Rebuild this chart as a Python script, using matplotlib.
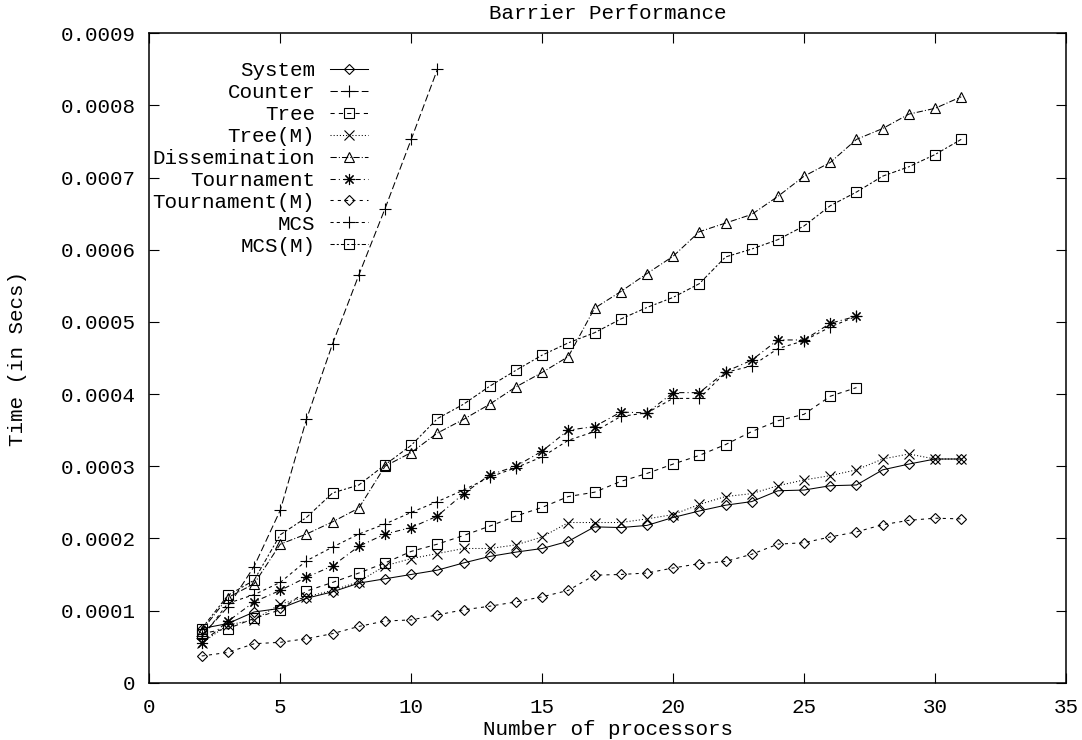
import numpy as np
import matplotlib
matplotlib.use("Agg")
import matplotlib.pyplot as plt
from matplotlib.ticker import FuncFormatter

plt.rcParams['font.family'] = ['Liberation Mono', 'DejaVu Sans Mono']
plt.rcParams['font.size'] = 15

SCALE = 1e-4  # values below are in units of 1e-4 seconds

procs_31 = list(range(2, 32))
procs_27 = list(range(2, 28))
procs_11 = list(range(2, 12))

system = [0.75, 0.82, 0.98, 1.03, 1.17, 1.26, 1.38, 1.44, 1.50, 1.56,
          1.66, 1.75, 1.81, 1.86, 1.96, 2.16, 2.15, 2.18, 2.29, 2.38,
          2.46, 2.51, 2.66, 2.67, 2.73, 2.74, 2.95, 3.03, 3.10, 3.10]
counter = [0.65, 1.05, 1.61, 2.39, 3.65, 4.70, 5.65, 6.57, 7.53, 8.50]
tree = [0.68, 0.75, 0.89, 1.01, 1.27, 1.39, 1.52, 1.66, 1.82, 1.92,
        2.04, 2.17, 2.31, 2.43, 2.58, 2.64, 2.79, 2.90, 3.03, 3.15,
        3.30, 3.48, 3.63, 3.72, 3.97, 4.09]
tree_m = [0.55, 0.80, 0.87, 1.09, 1.19, 1.28, 1.40, 1.62, 1.72, 1.79,
          1.86, 1.86, 1.91, 2.02, 2.22, 2.22, 2.22, 2.27, 2.33, 2.47,
          2.58, 2.62, 2.73, 2.81, 2.87, 2.95, 3.10, 3.17, 3.10, 3.10]
dissemination = [0.72, 1.18, 1.37, 1.92, 2.06, 2.23, 2.42, 3.00, 3.19, 3.46,
                 3.65, 3.86, 4.10, 4.30, 4.52, 5.19, 5.42, 5.67, 5.91, 6.25,
                 6.37, 6.49, 6.74, 7.02, 7.21, 7.53, 7.68, 7.88, 7.96, 8.12]
tournament = [0.55, 0.85, 1.12, 1.28, 1.46, 1.62, 1.89, 2.06, 2.15, 2.31,
              2.62, 2.88, 3.00, 3.21, 3.50, 3.55, 3.75, 3.74, 4.02, 4.02,
              4.31, 4.47, 4.75, 4.75, 4.98, 5.08]
tournament_m = [0.37, 0.42, 0.54, 0.56, 0.61, 0.68, 0.78, 0.855, 0.87, 0.94,
                1.01, 1.06, 1.12, 1.19, 1.28, 1.49, 1.50, 1.52, 1.59, 1.65,
                1.68, 1.78, 1.92, 1.94, 2.02, 2.09, 2.19, 2.25, 2.28, 2.27]
mcs = [0.62, 1.10, 1.22, 1.39, 1.69, 1.88, 2.06, 2.20, 2.36, 2.51,
       2.67, 2.85, 2.98, 3.13, 3.36, 3.48, 3.69, 3.74, 3.94, 3.94,
       4.30, 4.39, 4.63, 4.74, 4.93, 5.08]
mcs_m = [0.75, 1.21, 1.42, 2.05, 2.29, 2.63, 2.74, 3.02, 3.29, 3.66,
         3.86, 4.11, 4.33, 4.54, 4.71, 4.85, 5.04, 5.20, 5.34, 5.53,
         5.90, 6.01, 6.14, 6.33, 6.61, 6.80, 7.02, 7.15, 7.32, 7.53]

x_ticks = [0, 5, 10, 15, 20, 25, 30, 35]
y_ticks = [0, 0.0001, 0.0002, 0.0003, 0.0004, 0.0005, 0.0006, 0.0007, 0.0008, 0.0009]

asterisk = (8, 2, 0)
series = [
    ("System", procs_31, system, dict(ls='-', marker='D', ms=5.2)),
    ("Counter", procs_11, counter, dict(ls=(0, (7, 3)), marker='+', ms=8)),
    ("Tree", procs_27, tree, dict(ls=(0, (4, 4)), marker='s', ms=7)),
    ("Tree(M)", procs_31, tree_m, dict(ls=(0, (1, 2)), marker='x', ms=7)),
    ("Dissemination", procs_31, dissemination, dict(ls=(0, (6, 2, 1, 2)), marker='^', ms=7.5)),
    ("Tournament", procs_27, tournament, dict(ls=(0, (5, 3, 1, 3)), marker=asterisk, ms=8)),
    ("Tournament(M)", procs_31, tournament_m, dict(ls=(0, (3, 4)), marker='D', ms=5.2)),
    ("MCS", procs_27, mcs, dict(ls=(0, (3, 3)), marker='+', ms=8)),
    ("MCS(M)", procs_31, mcs_m, dict(ls=(0, (4, 2, 2, 2)), marker='s', ms=7)),
]

fig = plt.figure(figsize=(10.82, 7.40), dpi=100)
ax = fig.add_axes([149.3 / 1082, 1 - 682.7 / 740, (1066 - 149.3) / 1082, (682.7 - 33.3) / 740])

for label, xs, ys, st in series:
    ax.plot(xs, np.array(ys) * SCALE, color='black', lw=0.75,
            mfc='none', mec='black', mew=0.8, label=label, **st)

ax.set_xlim(0, 35)
ax.set_ylim(0, 0.0009)
ax.set_xticks(x_ticks)
ax.set_yticks(y_ticks)
ax.yaxis.set_major_formatter(FuncFormatter(lambda v, p: '0' if abs(v) < 1e-12 else f'{v:.4f}'))
ax.tick_params(direction='in', length=7, width=0.8, top=True, right=True, colors='black')
ax.tick_params(axis='x', pad=11)
ax.tick_params(axis='y', pad=10)
for s in ax.spines.values():
    s.set_linewidth(1.1)
    s.set_color('black')

ax.set_title("Barrier Performance", fontsize=15, pad=10)
ax.set_xlabel("Number of processors", labelpad=2)
ax.set_ylabel("Time (in Secs)", labelpad=24)

leg = ax.legend(loc='upper left', bbox_to_anchor=(0.0037, 0.957), frameon=False,
                markerfirst=False, borderpad=0, borderaxespad=0, labelspacing=0.14,
                handlelength=1.85, handletextpad=0.7, numpoints=1, fontsize=15)

fig.savefig("out.png", dpi=100)
